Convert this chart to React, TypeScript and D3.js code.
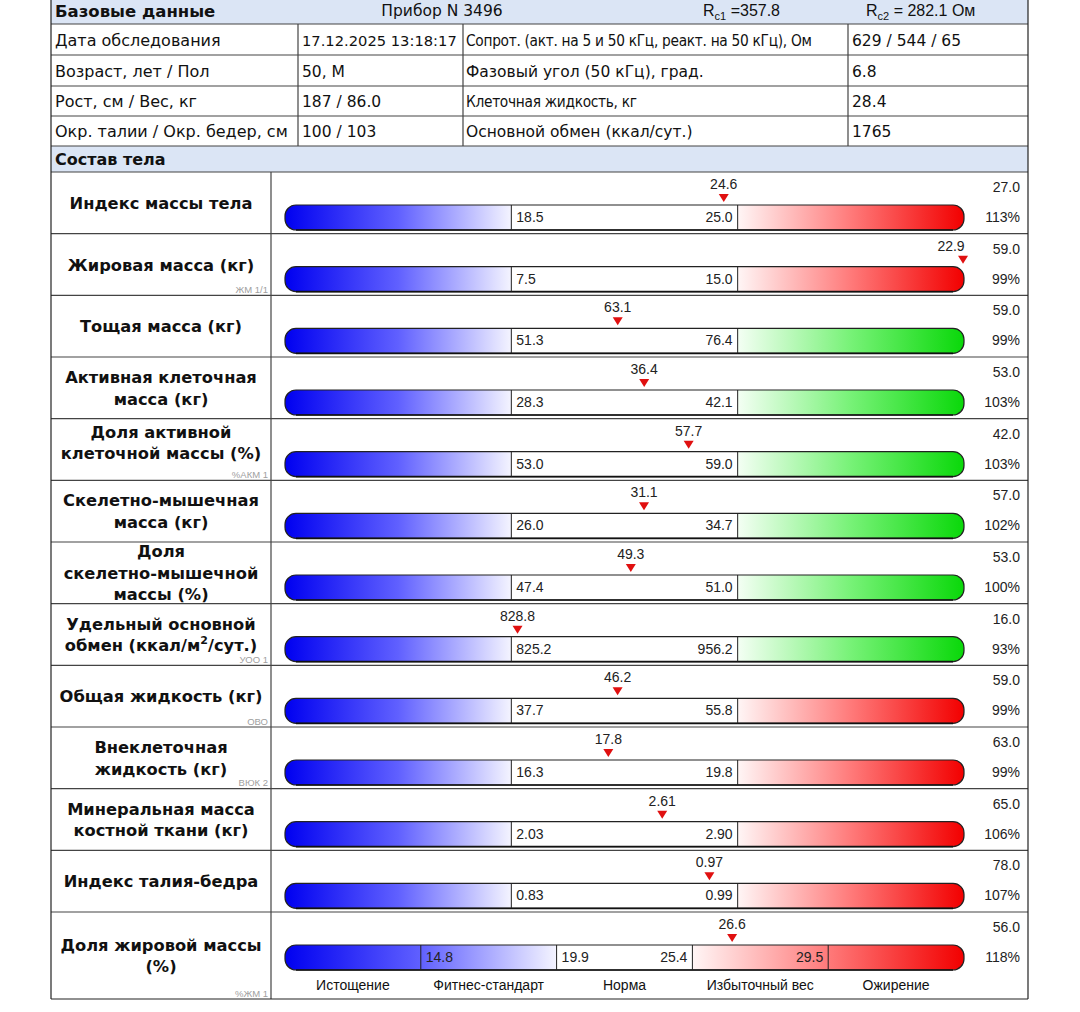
import * as d3 from "d3";

const W = 1080;
const H = 1012;

// header table
const infoLabels = [
  "Дата обследования",
  "Возраст, лет / Пол",
  "Рост, см / Вес, кг",
  "Окр. талии / Окр. бедер, см",
];
const infoValues = ["17.12.2025 13:18:17", "50, М", "187 / 86.0", "100 / 103"];
const measureLabels = [
  "Сопрот. (акт. на 5 и 50 кГц, реакт. на 50 кГц), Ом",
  "Фазовый угол (50 кГц), град.",
  "Клеточная жидкость, кг",
  "Основной обмен (ккал/сут.)",
];
const measureCondensed = [true, false, true, false];
const measureValues = ["629 / 544 / 65", "6.8", "28.4", "1765"];

// body composition rows
const rowLabels: string[][] = [
  ["Индекс массы тела"],
  ["Жировая масса (кг)"],
  ["Тощая масса (кг)"],
  ["Активная клеточная", "масса (кг)"],
  ["Доля активной", "клеточной массы (%)"],
  ["Скелетно-мышечная", "масса (кг)"],
  ["Доля", "скелетно-мышечной", "массы (%)"],
  ["Удельный основной", "обмен (ккал/м^2/сут.)"],
  ["Общая жидкость (кг)"],
  ["Внеклеточная", "жидкость (кг)"],
  ["Минеральная масса", "костной ткани (кг)"],
  ["Индекс талия-бедра"],
  ["Доля жировой массы", "(%)"],
];
const subLabels = ["", "ЖМ 1/1", "", "", "%АКМ 1", "", "", "УОО 1", "ОВО", "ВЮК 2", "", "", "%ЖМ 1"];
const thresholdLabels: string[][] = [
  ["18.5", "25.0"],
  ["7.5", "15.0"],
  ["51.3", "76.4"],
  ["28.3", "42.1"],
  ["53.0", "59.0"],
  ["26.0", "34.7"],
  ["47.4", "51.0"],
  ["825.2", "956.2"],
  ["37.7", "55.8"],
  ["16.3", "19.8"],
  ["2.03", "2.90"],
  ["0.83", "0.99"],
  ["14.8", "19.9", "25.4", "29.5"],
];
const valueLabels = ["24.6", "22.9", "63.1", "36.4", "57.7", "31.1", "49.3", "828.8", "46.2", "17.8", "2.61", "0.97", "26.6"];
const upperValues = ["27.0", "59.0", "59.0", "53.0", "42.0", "57.0", "53.0", "16.0", "59.0", "63.0", "65.0", "78.0", "56.0"];
const percents = [113, 99, 99, 103, 103, 102, 100, 93, 99, 99, 106, 107, 118];
const highColors = ["red", "red", "green", "green", "green", "green", "green", "green", "red", "red", "red", "red", "red"];
const fatCategories = ["Истощение", "Фитнес-стандарт", "Норма", "Избыточный вес", "Ожирение"];

const labelFont = "DejaVu Sans, Verdana, sans-serif";
const numFont = "Liberation Sans, Arial, sans-serif";
const border = "#444";
const bandFill = "#dbe5f5";

const left = 51;
const right = 1028;
const labelColRight = 271;
const barX0 = 285;
const barX1 = 964;
const bodyTop = 172;
const lastTop = 912;
const bottom = 999;
const headRows = [24, 55, 86, 116, 146];
const headCols = [left, 298, 463, 848, right];

const rowScale = d3.scaleLinear().domain([0, rowLabels.length - 1]).range([bodyTop, lastTop]);

function LabelLine({ text, x, y }: { text: string; x: number; y: number }) {
  if (text.includes("^2")) {
    const [a, b] = text.split("^2");
    return (
      <text x={x} y={y} textAnchor="middle">
        {a}
        <tspan fontSize={11} dy={-7}>2</tspan>
        <tspan dy={7}>{b}</tspan>
      </text>
    );
  }
  return (
    <text x={x} y={y} textAnchor="middle">
      {text}
    </text>
  );
}

function Row({ i }: { i: number }) {
  const top = rowScale(i);
  const rowBottom = i === rowLabels.length - 1 ? bottom : rowScale(i + 1);
  const thr = thresholdLabels[i].map((s) => +s);
  const n = thr.length + 1;
  const seg = d3.scaleLinear().domain([0, n]).range([barX0, barX1]);
  const pos = d3
    .scaleLinear()
    .domain(thr)
    .range(thr.map((_, k) => seg(k + 1)));
  const value = +valueLabels[i];
  const mx = Math.max(barX0 + 6, Math.min(barX1 - 1, pos(value)));
  const tx = Math.min(mx, barX1 - 13);
  const by = top + 33;
  const bh = 25;
  const mid = Math.floor(n / 2);
  const lines = rowLabels[i];
  const lh = 21.5;
  // the two-line label with a sub label sits a bit higher in the original
  const nudge = subLabels[i] && lines.length === 2 && i === 4 ? -7 : 0;
  const cy = (top + rowBottom) / 2 + nudge;
  const clipId = `bar-clip-${i}`;
  const r = 11;
  const hiGrad = highColors[i] === "green" ? "url(#grad-green)" : "url(#grad-red)";

  return (
    <g>
      <g fontFamily={labelFont} fontWeight="bold" fontSize={16.3} fill="#111">
        {lines.map((t, k) => (
          <LabelLine
            key={k}
            text={t}
            x={(left + labelColRight) / 2}
            y={cy + (k - (lines.length - 1) / 2) * lh + 6}
          />
        ))}
      </g>
      {subLabels[i] && (
        <text x={labelColRight - 3} y={rowBottom - 2.5} textAnchor="end" fontFamily={numFont} fontSize={9.5} fill="#a0a0a0">
          {subLabels[i]}
        </text>
      )}
      <clipPath id={clipId}>
        <rect x={barX0} y={by} width={barX1 - barX0} height={bh} rx={r} ry={r} />
      </clipPath>
      <g clipPath={`url(#${clipId})`}>
        <rect x={seg(0)} y={by} width={seg(mid) - seg(0)} height={bh} fill="url(#grad-blue)" />
        <rect x={seg(mid)} y={by} width={seg(mid + 1) - seg(mid)} height={bh} fill="#fff" />
        <rect x={seg(mid + 1)} y={by} width={seg(n) - seg(mid + 1)} height={bh} fill={hiGrad} />
      </g>
      <rect x={barX0} y={by} width={barX1 - barX0} height={bh} rx={r} ry={r} fill="none" stroke="#222" strokeWidth={1.2} />
      <line x1={barX0 + r} x2={barX1 - r} y1={by + bh} y2={by + bh} stroke="#111" strokeWidth={1.6} />
      {thr.map((_, k) => (
        <line key={k} x1={seg(k + 1)} x2={seg(k + 1)} y1={by} y2={by + bh} stroke="#222" strokeWidth={1} />
      ))}
      <g fontFamily={numFont} fontSize={14} fill="#222">
        {thresholdLabels[i].map((s, k) => {
          const leftSide = k < thr.length / 2;
          return (
            <text
              key={k}
              x={leftSide ? seg(k + 1) + 5 : seg(k + 1) - 5}
              y={top + 50}
              textAnchor={leftSide ? "start" : "end"}
            >
              {s}
            </text>
          );
        })}
        <text x={tx} y={top + 17} textAnchor="middle">
          {valueLabels[i]}
        </text>
        <text x={1020} y={top + 20} textAnchor="end">
          {upperValues[i]}
        </text>
        <text x={1020} y={top + 50} textAnchor="end">
          {percents[i]}%
        </text>
        {n === 5 &&
          fatCategories.map((c, k) => (
            <text key={c} x={(seg(k) + seg(k + 1)) / 2} y={rowBottom - 9} textAnchor="middle" fill="#111">
              {c}
            </text>
          ))}
      </g>
      <path d={`M${mx - 5},${top + 22}L${mx + 5},${top + 22}L${mx},${top + 30}Z`} fill="#e01010" />
    </g>
  );
}

export default function App() {
  const bodyLines = rowLabels.map((_, i) => rowScale(i));
  return (
    <svg width={W} height={H} style={{ position: "absolute", left: 0, top: 0, background: "#fff" }}>
      <defs>
        <linearGradient id="grad-blue" x1="0" x2="1" y1="0" y2="0">
          <stop offset="0" stopColor="#0000f0" />
          <stop offset="0.5" stopColor="#6060ff" />
          <stop offset="1" stopColor="#f4f4ff" />
        </linearGradient>
        <linearGradient id="grad-red" x1="0" x2="1" y1="0" y2="0">
          <stop offset="0" stopColor="#fff6f6" />
          <stop offset="0.5" stopColor="#ff7a7a" />
          <stop offset="1" stopColor="#f20000" />
        </linearGradient>
        <linearGradient id="grad-green" x1="0" x2="1" y1="0" y2="0">
          <stop offset="0" stopColor="#f4fff4" />
          <stop offset="0.5" stopColor="#77f277" />
          <stop offset="1" stopColor="#0ad80a" />
        </linearGradient>
      </defs>

      {/* header bands */}
      <rect x={left} y={0} width={right - left} height={headRows[0]} fill={bandFill} />
      <rect x={left} y={headRows[4]} width={right - left} height={bodyTop - headRows[4]} fill={bandFill} />

      <g fontFamily={labelFont} fill="#111">
        <text x={55} y={17} fontWeight="bold" fontSize={16.5}>
          Базовые данные
        </text>
        <text x={442} y={16} fontSize={15.5} textAnchor="middle">
          Прибор N 3496
        </text>
        <text x={703} y={16} fontFamily={numFont} fontSize={16}>
          R<tspan fontSize={11} dy={4}>c1</tspan>
          <tspan dy={-4}> =357.8</tspan>
        </text>
        <text x={866} y={16} fontFamily={numFont} fontSize={16}>
          R<tspan fontSize={11} dy={4}>c2</tspan>
          <tspan dy={-4}> = 282.1 Ом</tspan>
        </text>
        <text x={55} y={165} fontWeight="bold" fontSize={16}>
          Состав тела
        </text>
      </g>

      <g fontFamily={labelFont} fontSize={15.5} fill="#111">
        {infoLabels.map((t, k) => {
          const y = (headRows[k] + headRows[k + 1]) / 2 + 6;
          return (
            <g key={k}>
              <text x={headCols[0] + 4} y={y} fontSize={16}>{t}</text>
              <text x={headCols[1] + 4} y={y} fontSize={k === 0 ? 14.7 : 15.5}>{infoValues[k]}</text>
              <text
                x={headCols[2] + 3}
                y={y}
                fontSize={measureCondensed[k] ? 15.3 : 15.5}
                fontFamily={measureCondensed[k] ? "DejaVu Sans Condensed, DejaVu Sans, sans-serif" : labelFont}
                letterSpacing={measureCondensed[k] ? -0.3 : 0}
              >
                {measureLabels[k]}
              </text>
              <text x={headCols[3] + 4} y={y}>{measureValues[k]}</text>
            </g>
          );
        })}
      </g>

      {rowLabels.map((_, i) => (
        <Row key={i} i={i} />
      ))}

      {/* grid */}
      <g stroke={border} strokeWidth={1.2} fill="none">
        {headRows.map((y) => (
          <line key={"h" + y} x1={left} x2={right} y1={y} y2={y} />
        ))}
        <line x1={left} x2={right} y1={bodyTop} y2={bodyTop} />
        {headCols.slice(1, 4).map((x) => (
          <line key={"v" + x} x1={x} x2={x} y1={headRows[0]} y2={headRows[4]} />
        ))}
        {bodyLines.slice(1).map((y) => (
          <line key={"b" + y} x1={left} x2={right} y1={y} y2={y} />
        ))}
        <line x1={labelColRight} x2={labelColRight} y1={bodyTop} y2={bottom} />
        <line x1={left} x2={right} y1={bottom} y2={bottom} stroke="#222" />
        <line x1={left} x2={left} y1={0} y2={bottom} stroke="#222" />
        <line x1={right} x2={right} y1={0} y2={bottom} stroke="#222" />
      </g>
    </svg>
  );
}
